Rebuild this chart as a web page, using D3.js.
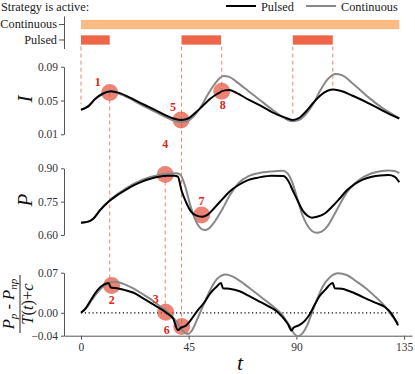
<!DOCTYPE html>
<html><head><meta charset="utf-8">
<script src="https://cdn.jsdelivr.net/npm/d3@7"></script>
<style>
html,body{margin:0;padding:0;background:#fff;} svg{display:block;}
svg text{font-family:"Liberation Serif","DejaVu Serif",serif !important;}
</style>
</head><body><svg id="c" width="415" height="374"></svg>
<script>
// ---------- data ----------
const xTicks = [0, 45, 90, 135];
const iTicks = [0.01, 0.05, 0.09];
const pTicks = [0.60, 0.75, 0.90];
const dTicks = [-0.04, 0.00, 0.07];
const strategyLabels = ["Continuous", "Pulsed"];
const continuousOn = [[0, 133]];
const pulsedOn = [[0, 12], [42, 58.5], [88.5, 105.2]];
const seriesNames = ["Pulsed", "Continuous"];

// I panel
const tIPulsed = [0,3,6,9,12.5,16,20,25,30,35,39,42,45,48,51,54,57,60,62,65,70,75,80,85,88.5,91,94,97,100,103,105.5,109,114,120,126,133];
const IPulsed  = [0.039,0.043,0.052,0.058,0.061,0.059,0.054,0.047,0.040,0.033,0.0285,0.027,0.029,0.036,0.044,0.052,0.058,0.062,0.0625,0.059,0.051,0.044,0.036,0.030,0.027,0.029,0.037,0.047,0.056,0.0615,0.063,0.061,0.055,0.047,0.038,0.0285];
const tICont = [0,3,6,9,12.5,16,20,25,30,35,39,42,44,47,50,53,56,59.5,62,65,70,75,80,84,88,91,94,97,100,103,106.5,109,114,120,126,133];
const ICont  = [0.039,0.043,0.052,0.0575,0.0605,0.058,0.053,0.045,0.038,0.031,0.026,0.0245,0.025,0.031,0.042,0.057,0.070,0.079,0.078,0.072,0.061,0.050,0.039,0.031,0.0255,0.027,0.034,0.046,0.062,0.075,0.0815,0.080,0.069,0.054,0.041,0.029];

// P panel
const tPPulsed = [0,3,5,8,11.5,15,18.5,22,25.5,29,32.5,36,39,40.5,42,44,46,48,50.5,53,56,59,62,66,70,74,79.5,84.5,86.5,88.5,90.5,92.5,94.5,96.5,99,102,105,108,111,114.5,118,121.5,125,128.5,131,133];
const PPulsed  = [0.655,0.660,0.672,0.712,0.750,0.778,0.802,0.823,0.840,0.853,0.862,0.866,0.866,0.862,0.800,0.745,0.705,0.688,0.682,0.692,0.725,0.760,0.795,0.826,0.848,0.858,0.867,0.865,0.845,0.800,0.755,0.712,0.688,0.678,0.683,0.698,0.728,0.763,0.800,0.830,0.850,0.862,0.868,0.870,0.863,0.837];
const tPCont = [0,3,5,8,11.5,15,18.5,22,25.5,29,32.5,36,39.5,41.5,43.5,45.5,47.5,49.5,51.5,53.5,56,59,62,66,70,74,79.5,84.5,86.5,88.5,90.5,92.5,94.5,96.5,98.5,100.5,103,105.5,108,111,114.5,118,121.5,125,128.5,131,133];
const PCont  = [0.655,0.660,0.672,0.713,0.752,0.782,0.807,0.830,0.848,0.861,0.870,0.875,0.878,0.872,0.820,0.740,0.675,0.635,0.622,0.630,0.662,0.715,0.775,0.835,0.865,0.878,0.886,0.889,0.875,0.830,0.760,0.690,0.645,0.618,0.610,0.615,0.640,0.685,0.735,0.790,0.833,0.860,0.878,0.887,0.890,0.888,0.878];

// (Pp - Pnp)/(T(t)+c) panel
const tDPulsed = [0,2,4.5,7,9.5,11.5,12.5,15,18,22,26,30,34,36,38.5,40.5,41.8,44,46,48.5,51.5,54,56.5,58.5,59.3,62,66,70,74,78,82,84.5,86.5,88,88.8,91,93.5,95.5,97.5,99.5,102,105.2,106,109,112,116,120,124,127,129.8,131.5,132.5];
const DPulsed  = [0.0,0.008,0.025,0.040,0.049,0.052,0.044,0.043,0.040,0.035,0.025,0.015,0.005,-0.001,-0.010,-0.030,-0.026,-0.022,-0.012,0.003,0.018,0.034,0.045,0.052,0.043,0.042,0.038,0.030,0.021,0.012,0.002,-0.009,-0.020,-0.031,-0.026,-0.022,-0.014,-0.003,0.013,0.028,0.040,0.052,0.043,0.042,0.038,0.031,0.023,0.016,0.010,-0.002,-0.014,-0.022];
const tDCont = [0,2,4.5,7,10,14,18,22,26,30,34,37,40,42.5,44.5,46.5,48.5,51,54,57,60.5,64,68,72,76,80,84,87,89,90.5,92.5,94.5,96.5,98.5,101,104,107.5,111,115,119,123,126,129.5,132.5];
const DCont  = [0.0,0.007,0.022,0.036,0.048,0.054,0.050,0.042,0.032,0.021,0.008,-0.002,-0.016,-0.031,-0.037,-0.030,-0.012,0.012,0.040,0.060,0.067,0.062,0.051,0.038,0.025,0.012,-0.003,-0.022,-0.036,-0.041,-0.036,-0.022,0.000,0.022,0.046,0.062,0.069,0.066,0.055,0.043,0.028,0.016,-0.003,-0.018];

// numbered markers
const markerLabels = ["1","2","3","4","5","6","7","8"];
const markerPanel  = ["I","D","D","P","I","D","P","I"];
const markerT      = [12, 12.8, 35.4, 35.2, 41.8, 42.1, 50.4, 58.8];
const markerV      = [0.0595, 0.0477, 0.001, 0.872, 0.027, -0.024, 0.690, 0.061];

// dashed guides: time, top (bar or panel value), bottom panel value
const guideT      = [0, 12, 35.2, 42, 58.8, 88.5, 105.2];
const guideTopP   = ["bar","I","P","bar","bar","bar","bar"];
const guideTopV   = [null, 0.0595, 0.872, null, null, null, null];
const guideBotP   = ["I","D","D","D","I","I","I"];
const guideBotV   = [0.046, 0.0477, 0.001, -0.024, 0.061, 0.031, 0.064];

// ---------- drawing ----------
const svg = d3.select("#c");
const FONT = "Liberation Serif";
const AX = "#555";
const PULSE_C = "#ef6548", CONT_C = "#fdbb84";

const x = d3.scaleLinear().domain([-7.1, 138.3]).range([64, 412]);
const y = {
  I: d3.scaleLinear().domain([0.01, 0.09]).range([134.3, 66.7]),
  P: d3.scaleLinear().domain([0.60, 0.90]).range([235, 168.3]),
  D: d3.scaleLinear().domain([-0.04, 0.07]).range([335.7, 272.7])
};
const band = d3.scaleBand().domain(strategyLabels).range([16, 48.5]).paddingInner(0.4).paddingOuter(0.25);

// title & legend
svg.append("text").attr("x", 1).attr("y", 6.5).attr("dominant-baseline","central")
  .attr("font-family", FONT).attr("font-size", 12.3).attr("fill","#222").text("Strategy is active:");
const legX = [226, 306];
const legCol = ["#000", "#888"];
seriesNames.forEach((n, i) => {
  svg.append("line").attr("x1", legX[i]).attr("x2", legX[i] + 30).attr("y1", 6).attr("y2", 6)
    .attr("stroke", legCol[i]).attr("stroke-width", 2);
  svg.append("text").attr("x", legX[i] + 35).attr("y", 6.5).attr("dominant-baseline","central")
    .attr("font-family", FONT).attr("font-size", 12.3).attr("fill","#222").text(n);
});

// strategy bars
const barAxis = svg.append("g").attr("transform","translate(64,0)")
  .call(d3.axisLeft(band).tickSize(5).tickSizeOuter(0).tickPadding(2));
barAxis.attr("font-family", null);
barAxis.select(".domain").attr("stroke", AX);
barAxis.selectAll(".tick line").attr("stroke", AX);
barAxis.selectAll(".tick text").attr("font-size", 12.3).attr("fill","#222");

svg.selectAll(".cbar").data(continuousOn).enter().append("rect")
  .attr("x", d => x(d[0])).attr("width", d => x(d[1]) - x(d[0]))
  .attr("y", band("Continuous")).attr("height", band.bandwidth()).attr("fill", CONT_C);
svg.selectAll(".pbar").data(pulsedOn).enter().append("rect")
  .attr("x", d => x(d[0])).attr("width", d => x(d[1]) - x(d[0]))
  .attr("y", band("Pulsed")).attr("height", band.bandwidth()).attr("fill", PULSE_C);

// dashed guides
const barBottom = band("Pulsed") + band.bandwidth() + 2;
guideT.forEach((t, i) => {
  const y1 = guideTopP[i] === "bar" ? barBottom : y[guideTopP[i]](guideTopV[i]);
  const y2 = y[guideBotP[i]](guideBotV[i]);
  svg.append("line").attr("x1", x(t)).attr("x2", x(t)).attr("y1", y1).attr("y2", y2)
    .attr("stroke", PULSE_C).attr("stroke-opacity", 0.8).attr("stroke-width", 1)
    .attr("stroke-dasharray", "4,3");
});

// y axes
function yAxis(key, ticks) {
  const g = svg.append("g").attr("transform","translate(64,0)")
    .call(d3.axisLeft(y[key]).tickValues(ticks).tickFormat(d3.format(".2f")).tickSize(3).tickSizeOuter(0).tickPadding(3));
  g.attr("font-family", null);
  g.select(".domain").attr("stroke", AX);
  g.selectAll(".tick line").attr("stroke", AX);
  g.selectAll(".tick text").attr("font-size", 11.5).attr("fill","#333");
}
yAxis("I", iTicks); yAxis("P", pTicks); yAxis("D", dTicks);

// x axis
const gx = svg.append("g").attr("transform", `translate(0,${y.D(-0.04)})`)
  .call(d3.axisBottom(x).tickValues(xTicks).tickSize(4).tickSizeOuter(0).tickPadding(3));
gx.attr("font-family", null);
gx.select(".domain").attr("stroke", AX);
gx.selectAll(".tick line").attr("stroke", AX);
gx.selectAll(".tick text").attr("font-size", 11.5).attr("fill","#333");

// zero dotted line
svg.append("line").attr("x1", x(0)).attr("x2", x(133)).attr("y1", y.D(0)).attr("y2", y.D(0))
  .attr("stroke", "#000").attr("stroke-width", 1.2).attr("stroke-dasharray", "1.2,2.6");

// axis titles
svg.append("text").attr("transform","translate(25,99) rotate(-90)").attr("text-anchor","middle")
  .attr("dominant-baseline","central").attr("font-style","italic")
  .attr("font-size", 21).attr("fill","#111").text("I");
svg.append("text").attr("transform","translate(25,200) rotate(-90)").attr("text-anchor","middle")
  .attr("dominant-baseline","central").attr("font-style","italic")
  .attr("font-size", 21).attr("fill","#111").text("P");
const fr = svg.append("g").attr("transform","translate(20,304) rotate(-90)");
const num = fr.append("text").attr("x", 0).attr("y", -6).attr("text-anchor","middle")
  .attr("font-size", 16.5).attr("fill","#111");
num.append("tspan").attr("font-style","italic").text("P");
num.append("tspan").attr("font-style","italic").attr("font-size", 11).attr("dy", 3).text("p");
num.append("tspan").attr("dy", -3).text(" - ");
num.append("tspan").attr("font-style","italic").text("P");
num.append("tspan").attr("font-style","italic").attr("font-size", 11).attr("dy", 3).text("np");
fr.append("line").attr("x1", -29).attr("x2", 29).attr("y1", 0).attr("y2", 0).attr("stroke","#111").attr("stroke-width", 0.9);
const den = fr.append("text").attr("x", 0).attr("y", 12.5).attr("text-anchor","middle")
  .attr("font-size", 16.5).attr("fill","#111");
den.append("tspan").attr("font-style","italic").text("T");
den.append("tspan").text("(");
den.append("tspan").attr("font-style","italic").text("t");
den.append("tspan").text(")+");
den.append("tspan").attr("font-style","italic").text("c");
svg.append("text").attr("x", 240).attr("y", 362).attr("text-anchor","middle").attr("dominant-baseline","central")
  .attr("font-style","italic").attr("font-size", 22).attr("fill","#111").text("t");

// markers (under lines)
const labelOffset = {"1":[-12,-10],"2":[0,15],"3":[-10,-13],"4":[0,-31],"5":[-8,-13],"6":[-15,3],"7":[0,-14],"8":[1,14]};
markerLabels.forEach((lab, i) => {
  const cx = x(markerT[i]), cy = y[markerPanel[i]](markerV[i]);
  svg.append("circle").attr("cx", cx).attr("cy", cy).attr("r", 8.5)
    .attr("fill", "#e34a33").attr("fill-opacity", 0.68);
});

// lines
const line = (key) => d3.line().x(d => x(d[0])).y(d => y[key](d[1])).curve(d3.curveMonotoneX);
const zip = (a, b) => a.map((t, i) => [t, b[i]]);
const seriesDefs = [
  ["I", tICont, ICont, "#888"], ["P", tPCont, PCont, "#888"], ["D", tDCont, DCont, "#888"],
  ["I", tIPulsed, IPulsed, "#000"], ["P", tPPulsed, PPulsed, "#000"], ["D", tDPulsed, DPulsed, "#000"]
];
seriesDefs.forEach(([k, t, v, c]) => {
  svg.append("path").attr("d", line(k)(zip(t, v))).attr("fill","none")
    .attr("stroke", c).attr("stroke-width", 2).attr("stroke-linejoin","round");
});

// marker labels
markerLabels.forEach((lab, i) => {
  const cx = x(markerT[i]), cy = y[markerPanel[i]](markerV[i]);
  const o = labelOffset[lab];
  svg.append("text").attr("x", cx + o[0]).attr("y", cy + o[1]).attr("text-anchor","middle")
    .attr("dominant-baseline","central").attr("font-weight","bold")
    .attr("font-size", 12).attr("fill", "#e0251b").text(lab);
});
</script></body></html>
